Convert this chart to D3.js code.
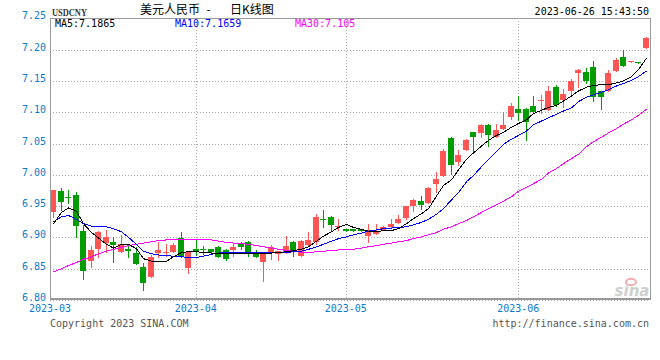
<!DOCTYPE html>
<html><head><meta charset="utf-8">
<script src="https://cdn.jsdelivr.net/npm/d3@7"></script>
<style>
html,body{margin:0;padding:0;background:#fff;}
svg{display:block;}
</style></head>
<body>
<script>
// ---- data ----
const dates = [
 "2023-03-07","2023-03-08","2023-03-09","2023-03-10","2023-03-13","2023-03-14","2023-03-15","2023-03-16","2023-03-17","2023-03-20",
 "2023-03-21","2023-03-22","2023-03-23","2023-03-24","2023-03-27","2023-03-28","2023-03-29","2023-03-30","2023-03-31",
 "2023-04-03","2023-04-04","2023-04-05","2023-04-06","2023-04-07","2023-04-10","2023-04-11","2023-04-12","2023-04-13","2023-04-14",
 "2023-04-17","2023-04-18","2023-04-19","2023-04-20","2023-04-21","2023-04-24","2023-04-25","2023-04-26","2023-04-27","2023-04-28",
 "2023-05-01","2023-05-02","2023-05-03","2023-05-04","2023-05-05","2023-05-08","2023-05-09","2023-05-10","2023-05-11","2023-05-12",
 "2023-05-15","2023-05-16","2023-05-17","2023-05-18","2023-05-19","2023-05-22","2023-05-23","2023-05-24","2023-05-25","2023-05-26",
 "2023-05-29","2023-05-30","2023-05-31",
 "2023-06-01","2023-06-02","2023-06-05","2023-06-06","2023-06-07","2023-06-08","2023-06-09","2023-06-12","2023-06-13","2023-06-14",
 "2023-06-15","2023-06-16","2023-06-19","2023-06-20","2023-06-21","2023-06-22","2023-06-23","2023-06-26"
];
const opens = [
 6.941,6.974,6.964,6.968,6.910,6.863,6.882,6.891,6.893,6.876,6.882,6.875,6.853,6.836,6.875,6.875,6.877,6.899,6.851,
 6.881,6.881,6.881,6.885,6.880,6.880,6.889,6.892,6.874,6.860,6.877,6.873,6.875,6.892,6.871,6.888,6.893,6.929,6.933,6.916,
 6.913,6.913,6.913,6.903,6.905,6.912,6.916,6.923,6.931,6.951,6.958,6.955,6.985,6.998,7.059,7.021,7.039,7.068,7.067,7.080,7.060,7.074,7.092,
 7.105,7.105,7.110,7.119,7.104,7.140,7.120,7.134,7.162,7.164,7.173,7.134,7.134,7.166,7.188,7.1812,7.1800,7.202
];
const highs = [
 6.975,6.979,6.975,6.973,6.920,6.886,6.910,6.912,6.900,6.904,6.889,6.884,6.859,6.872,6.893,6.889,6.891,6.909,6.876,
 6.897,6.887,6.882,6.886,6.881,6.891,6.892,6.894,6.880,6.875,6.888,6.878,6.902,6.895,6.896,6.908,6.937,6.944,6.935,6.929,
 6.914,6.914,6.914,6.921,6.922,6.919,6.929,6.936,6.950,6.961,6.966,6.980,7.005,7.042,7.061,7.040,7.057,7.068,7.082,7.082,7.082,7.100,7.115,
 7.126,7.107,7.126,7.127,7.142,7.144,7.137,7.153,7.169,7.171,7.182,7.134,7.168,7.186,7.200,7.1825,7.1802,7.221
];
const lows = [
 6.932,6.944,6.955,6.900,6.834,6.853,6.868,6.877,6.861,6.876,6.868,6.858,6.816,6.836,6.868,6.870,6.877,6.869,6.843,
 6.872,6.874,6.876,6.869,6.864,6.871,6.882,6.871,6.868,6.831,6.866,6.864,6.875,6.870,6.871,6.888,6.890,6.916,6.912,6.912,
 6.910,6.910,6.910,6.892,6.905,6.912,6.916,6.923,6.930,6.943,6.945,6.955,6.973,6.998,7.001,7.016,7.039,7.038,7.061,7.046,7.060,7.074,7.090,
 7.088,7.055,7.099,7.099,7.104,7.110,7.109,7.128,7.141,7.146,7.118,7.106,7.134,7.166,7.174,7.1810,7.1790,7.202
];
const closes = [
 6.975,6.957,6.9635,6.919,6.847,6.880,6.908,6.901,6.888,6.889,6.878,6.858,6.827,6.868,6.880,6.877,6.888,6.871,6.876,
 6.877,6.880,6.877,6.869,6.865,6.885,6.885,6.873,6.868,6.875,6.884,6.878,6.886,6.876,6.894,6.896,6.933,6.928,6.920,6.919,
 6.911,6.911,6.911,6.908,6.908,6.917,6.921,6.929,6.950,6.960,6.952,6.979,6.994,7.038,7.015,7.032,7.055,7.061,7.080,7.063,7.071,7.080,7.110,
 7.099,7.084,7.101,7.120,7.134,7.112,7.129,7.150,7.168,7.150,7.124,7.125,7.163,7.184,7.174,7.1820,7.1795,7.219
];
const ma5 = [
 6.922,6.940,6.947,6.942,6.922,6.908,6.899,6.889,6.883,6.889,6.889,6.882,6.866,6.862,6.861,6.862,6.869,6.876,6.877,
 6.877,6.876,6.875,6.874,6.874,6.874,6.874,6.875,6.875,6.875,6.875,6.876,6.877,6.879,6.881,6.885,6.894,6.902,6.909,6.916,
 6.921,6.916,6.913,6.910,6.909,6.911,6.911,6.914,6.922,6.930,6.938,6.946,6.966,6.983,6.992,7.008,7.025,7.035,7.046,7.055,7.063,7.068,7.076,
 7.082,7.088,7.098,7.103,7.108,7.111,7.118,7.126,7.134,7.140,7.143,7.144,7.144,7.147,7.150,7.157,7.168,7.1865
];
const ma10 = [
 6.925,6.933,6.935,6.929,6.922,6.918,6.918,6.917,6.914,6.909,6.900,6.889,6.878,6.874,6.872,6.871,6.870,6.869,6.868,
 6.868,6.870,6.873,6.875,6.876,6.876,6.876,6.876,6.876,6.876,6.876,6.876,6.876,6.877,6.878,6.881,6.885,6.889,6.894,6.898,
 6.901,6.904,6.907,6.910,6.912,6.914,6.915,6.916,6.917,6.920,6.924,6.929,6.937,6.946,6.960,6.972,6.989,6.999,7.013,7.025,7.037,7.049,7.057,
 7.063,7.070,7.080,7.086,7.091,7.097,7.102,7.107,7.117,7.124,7.128,7.132,7.136,7.142,7.146,7.151,7.157,7.1659
];
const ma30 = [
 6.845,6.850,6.855,6.860,6.865,6.869,6.874,6.878,6.881,6.884,6.887,6.889,6.891,6.893,6.895,6.896,6.897,6.897,6.897,
 6.897,6.897,6.896,6.894,6.892,6.891,6.890,6.889,6.887,6.885,6.883,6.881,6.879,6.878,6.876,6.876,6.877,6.878,6.879,6.880,
 6.880,6.881,6.883,6.885,6.887,6.889,6.891,6.893,6.895,6.898,6.901,6.904,6.908,6.913,6.917,6.922,6.927,6.933,6.940,6.946,6.952,6.958,6.965,
 6.974,6.980,6.986,6.993,7.003,7.010,7.018,7.026,7.033,7.045,7.053,7.060,7.067,7.074,7.081,7.088,7.095,7.105
];
const yTicks = [6.80,6.85,6.90,6.95,7.00,7.05,7.10,7.15,7.20,7.25];
const symbol = "USDCNY";
const titleName = "美元人民币";
const titleType = "日K线图";
const timestamp = "2023-06-26 15:43:50";
const copyright = "Copyright 2023 SINA.COM";
const siteUrl = "http://finance.sina.com.cn";

// ---- chart ----
const W = 660, H = 360;
const L = 50, R = 650, T = 18, B = 298;
const UP = "#ff5555", DOWN = "#009c00";
const mono = "'DejaVu Sans Mono', monospace";
const axisBlue = "#0a7bcc";

const svg = d3.select("body").append("svg").attr("width", W).attr("height", H);
svg.append("rect").attr("width", W).attr("height", H).attr("fill", "#fff");

const n = dates.length;
const x = d3.scaleBand().domain(d3.range(n)).range([49.55, 649.55]).paddingInner(0.2).paddingOuter(0.1);
const y = d3.scaleLinear().domain([6.80, 7.25]).range([300, 18.4]);
const cx = i => Math.round(x(i)) + 3.5;

// month ticks
const monthIdx = [];
dates.forEach((d, i) => { if (i === 0 || d.slice(0, 7) !== dates[i - 1].slice(0, 7)) monthIdx.push(i); });

const grid = svg.append("g").attr("stroke", "#a8a8a8").attr("stroke-dasharray", "1,2").attr("shape-rendering", "crispEdges");
yTicks.filter(v => v < 7.24).forEach(v => {
  const yy = Math.round(y(v)) + 0.5;
  grid.append("line").attr("x1", L).attr("x2", R).attr("y1", yy).attr("y2", yy);
});
monthIdx.slice(1).forEach(i => {
  const xx = Math.round(x(i) + x.bandwidth() / 2) + 0.5;
  grid.append("line").attr("x1", xx).attr("x2", xx).attr("y1", T).attr("y2", B);
});

// watermark
const wm = svg.append("g");
wm.append("ellipse").attr("cx", 631).attr("cy", 282).attr("rx", 5).attr("ry", 3.2)
  .attr("fill", "none").attr("stroke", "#f4a9a9").attr("stroke-width", 2);
wm.append("text").attr("x", 632).attr("y", 296).attr("text-anchor", "middle")
  .attr("font-family", "'DejaVu Sans', sans-serif").attr("font-style", "italic").attr("font-weight", "bold")
  .attr("font-size", 15).attr("fill", "#cfcfcf").text("sina");

// candles
const cg = svg.append("g").attr("shape-rendering", "crispEdges");
d3.range(n).forEach(i => {
  const up = closes[i] > opens[i];
  const col = up ? UP : DOWN;
  const bx = Math.round(x(i));
  const yo = y(opens[i]), yc = y(closes[i]);
  const top = Math.round(Math.min(yo, yc));
  const h = Math.max(1, Math.round(Math.max(yo, yc)) - top);
  cg.append("line").attr("x1", bx + 3.5).attr("x2", bx + 3.5)
    .attr("y1", Math.round(y(highs[i]))).attr("y2", Math.round(y(lows[i])) + 1)
    .attr("stroke", col).attr("stroke-width", 1);
  cg.append("rect").attr("x", bx).attr("y", top).attr("width", x.bandwidth()).attr("height", h).attr("fill", col);
});

// moving averages
const line = d3.line().x((d, i) => cx(i)).y(d => y(d));
[[ma30, "#ff00ff"], [ma10, "#0000ff"], [ma5, "#000000"]].forEach(([arr, c]) => {
  svg.append("path").datum(arr).attr("d", line).attr("fill", "none").attr("stroke", c)
    .attr("stroke-width", 1).attr("shape-rendering", "crispEdges");
});

// frame
const fr = svg.append("g").attr("stroke", "#9a9a9a").attr("shape-rendering", "crispEdges").attr("fill", "none");
fr.append("rect").attr("x", L + 0.5).attr("y", T + 0.5).attr("width", R - L).attr("height", B - T);
svg.append("line").attr("x1", L).attr("x2", R + 1).attr("y1", B + 1.5).attr("y2", B + 1.5)
  .attr("stroke", "#9a9a9a").attr("shape-rendering", "crispEdges");
svg.append("line").attr("x1", L).attr("x2", R).attr("y1", 300.5).attr("y2", 300.5)
  .attr("stroke", "#a8a8a8").attr("stroke-dasharray", "1,2").attr("shape-rendering", "crispEdges");

// y labels
svg.append("g").selectAll("text").data(yTicks).join("text")
  .attr("x", 46).attr("y", d => y(d) - 2).attr("text-anchor", "end").attr("dominant-baseline", "middle")
  .attr("font-family", mono).attr("font-size", 10).attr("fill", axisBlue).text(d => d.toFixed(2));

// x labels
svg.append("g").selectAll("text").data(monthIdx).join("text")
  .attr("x", (d, k) => k === 0 ? L : x(d) + x.bandwidth() / 2)
  .attr("y", 308.5).attr("text-anchor", "middle").attr("dominant-baseline", "middle")
  .attr("font-family", mono).attr("font-size", 10).attr("fill", axisBlue).text(d => dates[d].slice(0, 7));

// header
svg.append("text").attr("x", 52).attr("y", 16).attr("font-family", "'Liberation Serif', serif")
  .attr("font-weight", "bold").attr("font-size", 11).attr("fill", "#333")
  .attr("textLength", 35).attr("lengthAdjust", "spacingAndGlyphs").text(symbol);
const tf = "'Noto Sans CJK SC', sans-serif";
svg.append("text").attr("x", 140).attr("y", 14).attr("font-family", tf).attr("font-size", 12).attr("fill", "#000").text(titleName);
svg.append("text").attr("x", 208.5).attr("y", 14).attr("text-anchor", "middle").attr("font-family", tf).attr("font-size", 12).attr("fill", "#000").text("-");
svg.append("text").attr("x", 230).attr("y", 14).attr("font-family", tf).attr("font-size", 12).attr("fill", "#000").text(titleType);
svg.append("text").attr("x", 649).attr("y", 12).attr("text-anchor", "end").attr("dominant-baseline", "middle")
  .attr("font-family", mono).attr("font-size", 10).attr("fill", "#000").text(timestamp);

// legend
const legend = [["MA5", ma5, "#000000", 55], ["MA10", ma10, "#0000ff", 175], ["MA30", ma30, "#ff00ff", 295]];
legend.forEach(([name, arr, c, lx]) => {
  svg.append("text").attr("x", lx).attr("y", 24).attr("dominant-baseline", "middle")
    .attr("font-family", mono).attr("font-size", 10).attr("fill", c).text(name + ":" + String(arr[arr.length - 1]));
});

// footer
svg.append("text").attr("x", 50).attr("y", 323.5).attr("dominant-baseline", "middle")
  .attr("font-family", mono).attr("font-size", 10).attr("fill", "#555").text(copyright);
svg.append("text").attr("x", 649).attr("y", 323.5).attr("text-anchor", "end").attr("dominant-baseline", "middle")
  .attr("font-family", mono).attr("font-size", 10).attr("fill", "#555").text(siteUrl);
</script>
</body></html>
